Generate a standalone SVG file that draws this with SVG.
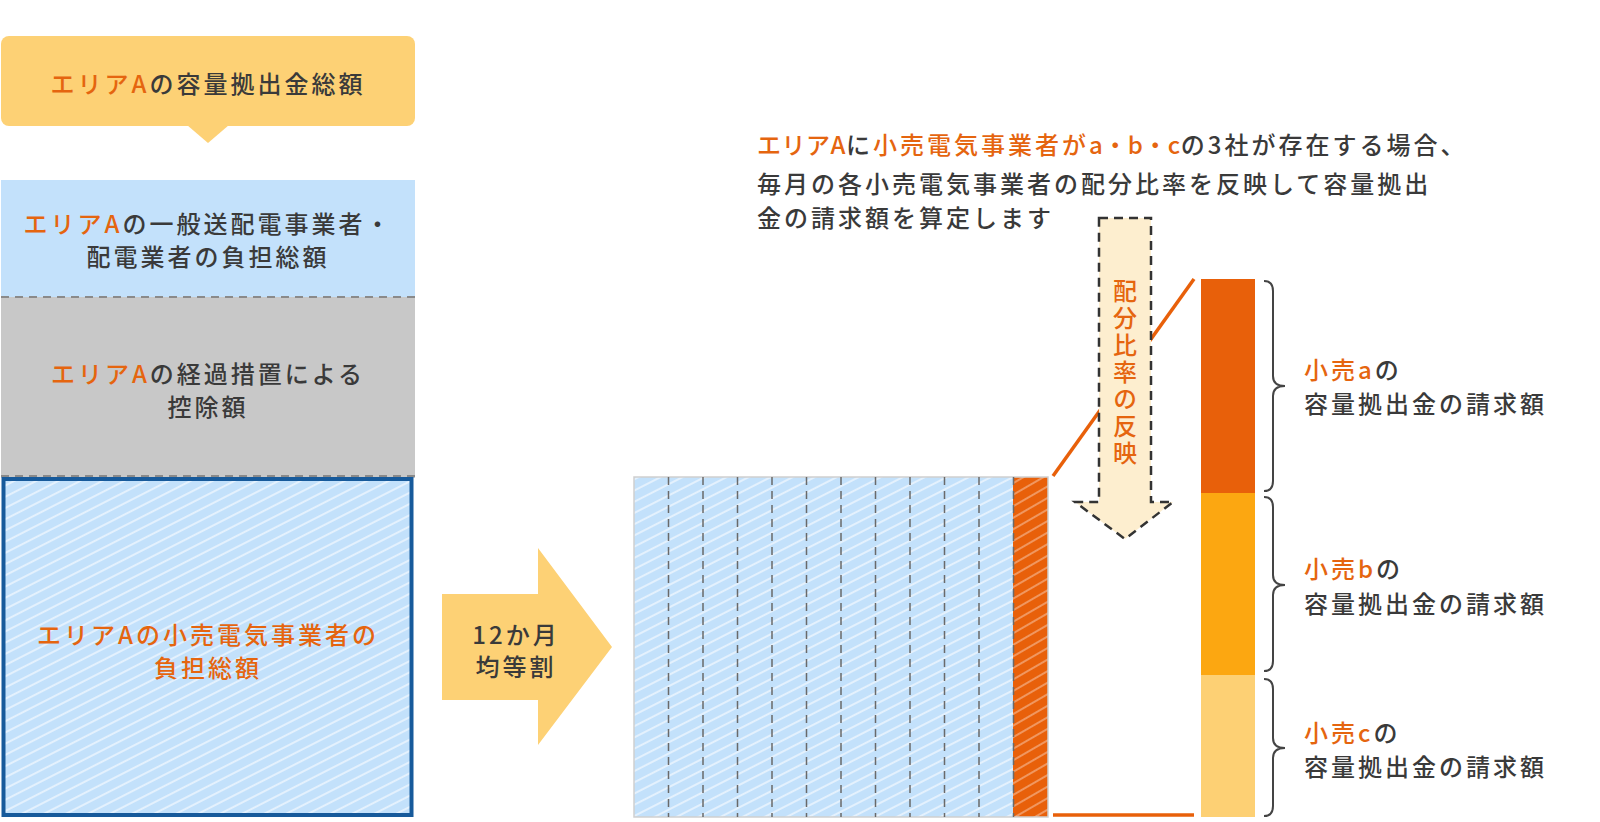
<svg xmlns="http://www.w3.org/2000/svg" width="1600" height="822" viewBox="0 0 1600 822">
<style>
text{font-family:"Noto Sans CJK JP","Noto Sans",sans-serif;font-size:24px;letter-spacing:3px;fill:#3a3a3a;dominant-baseline:central;font-weight:500}
.c{text-anchor:middle}
.o{fill:#e5650f}
.t{letter-spacing:0.5px}
.sep{stroke:#8a8a8a;stroke-width:2;stroke-dasharray:8 6;fill:none}
.grid{stroke:#6a6a6a;stroke-width:1.5;stroke-dasharray:8 6;fill:none}
.brace{fill:none;stroke:#444;stroke-width:2}
.oline{stroke:#e8600a;stroke-width:3.5;fill:none}
</style>
<defs>
<pattern id="hb" patternUnits="userSpaceOnUse" width="10" height="10" patternTransform="rotate(-27)">
<rect width="10" height="10" fill="#c3e1fb"/>
<line x1="0" y1="5" x2="10" y2="5" stroke="#ffffff" stroke-opacity="0.55" stroke-width="2"/>
</pattern>
<pattern id="ho" patternUnits="userSpaceOnUse" width="10" height="10" patternTransform="rotate(-30)">
<rect width="10" height="10" fill="#e8600a"/>
<line x1="0" y1="5" x2="10" y2="5" stroke="#ffffff" stroke-opacity="0.35" stroke-width="2"/>
</pattern>
</defs>

<g id="total">
<rect x="1" y="36" width="414" height="90" rx="8" fill="#fdd175"/>
<polygon points="187,125 229,125 208,143" fill="#fdd175"/>
<text class="c" x="208" y="82"><tspan class="o">エリアA</tspan>の容量拠出金総額</text>
</g>

<g id="tso">
<rect x="1" y="180" width="414" height="117" fill="#c3e1fb"/>
<text class="c" x="208" y="222"><tspan class="o">エリアA</tspan>の一般送配電事業者・</text>
<text class="c" x="208" y="255">配電業者の負担総額</text>
</g>

<g id="deduction">
<rect x="1" y="297" width="414" height="181" fill="#c8c8c8"/>
<line class="sep" x1="1" y1="297" x2="415" y2="297"/>
<line class="sep" x1="1" y1="476" x2="415" y2="476"/>
<text class="c" x="208" y="372"><tspan class="o">エリアA</tspan>の経過措置による</text>
<text class="c" x="208" y="405">控除額</text>
</g>

<g id="retail-total">
<rect x="3.5" y="479" width="408" height="336" fill="url(#hb)" stroke="#175a9b" stroke-width="4"/>
<text class="c o" x="208" y="633">エリアAの小売電気事業者の</text>
<text class="c o" x="208" y="666">負担総額</text>
</g>

<g id="split-arrow">
<polygon points="442,594 538,594 538,548 612,647 538,745 538,700 442,700" fill="#fdd175"/>
<text class="c" x="516" y="633">12か月</text>
<text class="c" x="516" y="665">均等割</text>
</g>

<g id="monthly-grid">
<rect x="634" y="477" width="379" height="340" fill="url(#hb)"/>
<rect x="1013" y="477" width="35" height="340" fill="url(#ho)"/>
<rect x="634" y="477" width="414" height="340" fill="none" stroke="#cfcfcf" stroke-width="1.5"/>
<path class="grid" d="M668.5,477V817M703,477V817M737.5,477V817M772,477V817M806.5,477V817M841,477V817M875.5,477V817M910,477V817M944.5,477V817M979,477V817M1013.5,477V817"/>
</g>

<g id="connectors">
<line class="oline" x1="1053" y1="476" x2="1194" y2="279"/>
<line class="oline" x1="1053" y1="815" x2="1194" y2="815"/>
<path class="brace" d="M1264,281 Q1273,281 1273,291 L1273,376 Q1273,386 1285,386 Q1273,386 1273,396 L1273,481 Q1273,491 1264,491"/>
<path class="brace" d="M1264,497 Q1273,497 1273,507 L1273,575 Q1273,585 1285,585 Q1273,585 1273,595 L1273,661 Q1273,671 1264,671"/>
<path class="brace" d="M1264,679 Q1273,679 1273,689 L1273,738 Q1273,748 1285,748 Q1273,748 1273,758 L1273,806 Q1273,816 1264,816"/>
</g>

<g id="ratio-arrow">
<polygon points="1099,218 1151,218 1151,502 1173,502 1125,539 1075,502 1099,502" fill="#fdeecf" stroke="#333" stroke-width="2.5" stroke-dasharray="9 6"/>
<text x="1125" y="279" style="writing-mode:vertical-rl;dominant-baseline:auto" class="o">配分比率の反映</text>
</g>

<g id="bar">
<rect x="1201" y="279" width="54" height="214" fill="#e8600a"/>
<rect x="1201" y="493" width="54" height="182" fill="#fca711"/>
<rect x="1201" y="675" width="54" height="142" fill="#fdd074"/>
</g>

<g id="label-a">
<text x="1304" y="368"><tspan class="o">小売a</tspan>の</text>
<text x="1304" y="402">容量拠出金の請求額</text>
</g>
<g id="label-b">
<text x="1304" y="567"><tspan class="o">小売b</tspan>の</text>
<text x="1304" y="602">容量拠出金の請求額</text>
</g>
<g id="label-c">
<text x="1304" y="731"><tspan class="o">小売c</tspan>の</text>
<text x="1304" y="765">容量拠出金の請求額</text>
</g>

<g id="note">
<text x="757" y="143"><tspan class="o t">エリアA</tspan>に<tspan class="o">小売電気事業者が</tspan><tspan class="o t">a・b・c</tspan>の3社が存在する場合、</text>
<text x="757" y="182">毎月の各小売電気事業者の配分比率を反映して容量拠出</text>
<text x="757" y="216">金の請求額を算定します</text>
</g>
</svg>
